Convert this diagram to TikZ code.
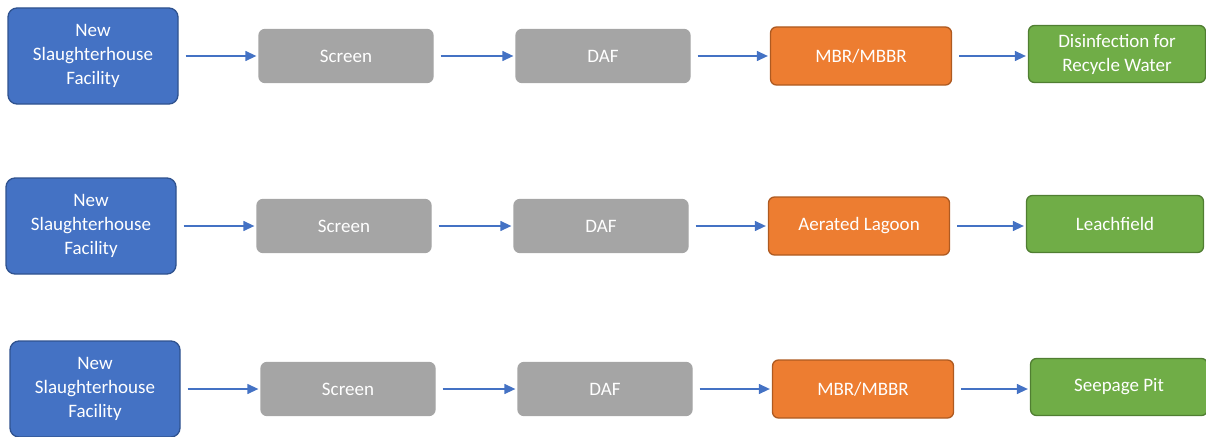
\documentclass[tikz,border=0pt]{standalone}
\usepackage{fontspec}
\setmainfont{Carlito}
\usetikzlibrary{arrows.meta}

\definecolor{srcfill}{HTML}{4472C4}
\definecolor{srcline}{HTML}{2F528F}
\definecolor{prefill}{HTML}{A5A5A5}
\definecolor{biofill}{HTML}{ED7D31}
\definecolor{bioline}{HTML}{AE5A21}
\definecolor{sinkfill}{HTML}{70AD47}
\definecolor{sinkline}{HTML}{507E32}

\begin{document}
\begin{tikzpicture}[x=1pt, y=-1pt,
    box/.style={rounded corners=6pt, inner sep=0pt, align=center, text=white,
        font=\fontsize{19}{24}\selectfont, line width=1.3pt},
    src/.style={box, rounded corners=9pt, fill=srcfill, draw=srcline,
        minimum width=170pt, minimum height=96pt},
    pre/.style={box, fill=prefill, draw=prefill,
        minimum width=174pt, minimum height=53pt},
    bio/.style={box, fill=biofill, draw=bioline,
        minimum width=181pt, minimum height=58pt},
    sink/.style={box, fill=sinkfill, draw=sinkline,
        minimum width=177pt, minimum height=57pt},
    flow/.style={draw=srcfill, line width=1.3pt, -{Triangle[length=11pt, width=10pt]},
        shorten <=7pt, shorten >=2pt}]
    \useasboundingbox (0,0) rectangle (1206,436);

    % one treatment train per row
    \foreach \r/\y/\dx/\biotext/\sinktext in {
        a/56/0/{MBR/MBBR}/{Disinfection for\\Recycle Water},
        b/226/-2/{Aerated Lagoon}/{Leachfield},
        c/389/2/{MBR/MBBR}/{Seepage Pit}} {
        \node[src] (src\r) at (93+\dx,\y) {New\\Slaughterhouse\\Facility};
        \node[pre] (scr\r) at (346+\dx,\y) {Screen};
        \node[pre] (daf\r) at (603+\dx,\y) {DAF};
        \node[bio] (bio\r) at (861+\dx,\y) {\biotext};
        \node[sink] (sink\r) at (1117+\dx,\y-2) {\sinktext};

        \draw[flow] (src\r) -- (scr\r);
        \draw[flow] (scr\r) -- (daf\r);
        \draw[flow] (daf\r) -- (bio\r);
        \draw[flow] (bio\r.east) -- (sink\r.west |- bio\r.east);
    }
\end{tikzpicture}
\end{document}
